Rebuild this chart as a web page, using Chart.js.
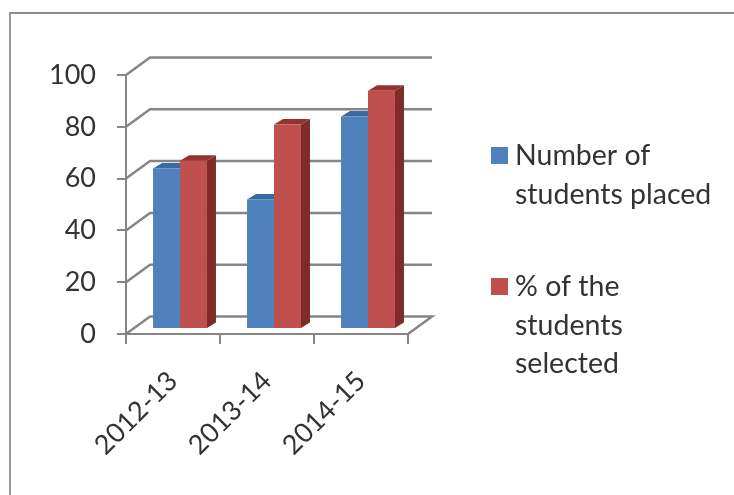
<!DOCTYPE html>
<html>
<head>
<meta charset="utf-8">
<script src="https://cdn.jsdelivr.net/npm/chart.js@4"></script>
<style>
  html, body { margin: 0; padding: 0; background: #fff; }
  #wrap { position: relative; width: 734px; height: 495px; overflow: hidden; }
  #frame { position: absolute; left: 9px; top: 12px; width: 740px; height: 500px;
           border-left: 2px solid #9a9a9a; border-top: 2px solid #8c8c8c; }
  canvas { position: absolute; left: 0; top: 0; filter: blur(0.5px); }
</style>
</head>
<body>
<div id="wrap">
  <div id="frame"></div>
  <canvas id="chart" width="734" height="495"></canvas>
</div>
<script>
const years = ["2012-13", "2013-14", "2014-15"];
const placed = [62, 50, 82];
const selected = [65, 79, 92];
const yTicks = [0, 20, 40, 60, 80, 100];
const legendLines = [["Number of", "students placed"], ["% of the", "students", "selected"]];

const fontName = "Lato";
const axisGrey = "#868686";
const textGrey = "#333333";
const frontColors = ["#4f81bd", "#c0504d"];
const topColors = ["#3a6a9f", "#96322f"];
const sideColors = ["#2f5c8f", "#7d2c2a"];

// 3D look: how far the back wall sits from the front axes, and how the bars sit on the floor
const wallDx = 24, wallDy = -17.5;
const barDx = 7, barDy = -5;
const depthDx = 9, depthDy = -5.5;

function poly(ctx, pts, color) {
  ctx.fillStyle = color;
  ctx.beginPath();
  pts.forEach((p, i) => i ? ctx.lineTo(p[0], p[1]) : ctx.moveTo(p[0], p[1]));
  ctx.closePath();
  ctx.fill();
}

const fake3d = {
  id: "fake3d",
  beforeDatasetsDraw(chart) {
    const ctx = chart.ctx;
    const { left, right } = chart.chartArea;
    const yScale = chart.scales.y;

    // walls and floor
    ctx.save();
    ctx.strokeStyle = axisGrey;
    ctx.lineWidth = 2.5;
    yTicks.forEach(v => {
      const y = yScale.getPixelForValue(v);
      ctx.beginPath();
      ctx.moveTo(left, y);
      ctx.lineTo(left + wallDx, y + wallDy);
      ctx.lineTo(right + wallDx, y + wallDy);
      if (v === 0) ctx.lineTo(right, y);
      ctx.stroke();
    });
    ctx.restore();

    // bars sit a little inside the floor, depth goes first so the fronts cover it
    ctx.save();
    ctx.translate(barDx, barDy);
    chart.data.datasets.forEach((ds, i) => {
      chart.getDatasetMeta(i).data.forEach(bar => {
        const l = bar.x - bar.width / 2, r = bar.x + bar.width / 2;
        poly(ctx, [[r, bar.y], [r + depthDx, bar.y + depthDy], [r + depthDx, bar.base + depthDy], [r, bar.base]], sideColors[i]);
        poly(ctx, [[l, bar.y], [l + depthDx, bar.y + depthDy], [r + depthDx, bar.y + depthDy], [r, bar.y]], topColors[i]);
      });
    });
    ctx.restore();

    ctx.save();
    ctx.translate(barDx, barDy);
  },
  afterDatasetsDraw(chart) {
    chart.ctx.restore();
  },
  afterDraw(chart) {
    // legend, wrapped the way the original wraps it
    const ctx = chart.ctx;
    ctx.save();
    ctx.font = "28.5px " + fontName;
    ctx.textBaseline = "middle";
    const starts = [156, 287];
    legendLines.forEach((lines, i) => {
      ctx.fillStyle = frontColors[i];
      ctx.fillRect(491, starts[i] - 9, 17, 17);
      ctx.fillStyle = textGrey;
      lines.forEach((t, j) => ctx.fillText(t, 515, starts[i] + j * 38.5));
    });
    ctx.restore();
  }
};

new Chart(document.getElementById("chart"), {
  type: "bar",
  data: {
    labels: years,
    datasets: [
      { label: legendLines[0].join(" "), data: placed, backgroundColor: frontColors[0], clip: false },
      { label: legendLines[1].join(" "), data: selected, backgroundColor: frontColors[1], clip: false }
    ]
  },
  options: {
    responsive: false,
    animation: false,
    devicePixelRatio: 1,
    layout: { padding: { left: 0, top: 75, right: 326, bottom: 0 } },
    plugins: { legend: { display: false }, tooltip: { enabled: false } },
    datasets: { bar: { barPercentage: 1, categoryPercentage: 0.574 } },
    scales: {
      x: {
        afterFit(scale) { scale.height = 161; },
        grid: { drawOnChartArea: false, color: axisGrey, lineWidth: 2, tickLength: 10 },
        border: { color: axisGrey, width: 2 },
        ticks: { color: textGrey, font: { family: fontName, size: 27 }, minRotation: 45, maxRotation: 45, padding: 21 }
      },
      y: {
        min: 0,
        max: 100,
        afterFit(scale) { scale.width = 126; },
        afterBuildTicks(scale) { scale.ticks = yTicks.map(v => ({ value: v })); },
        grid: { drawOnChartArea: false, color: axisGrey, lineWidth: 2, tickLength: 9 },
        border: { color: axisGrey, width: 2 },
        ticks: { color: textGrey, font: { family: fontName, size: 27 }, padding: 21 }
      }
    }
  },
  plugins: [fake3d]
});
</script>
</body>
</html>
